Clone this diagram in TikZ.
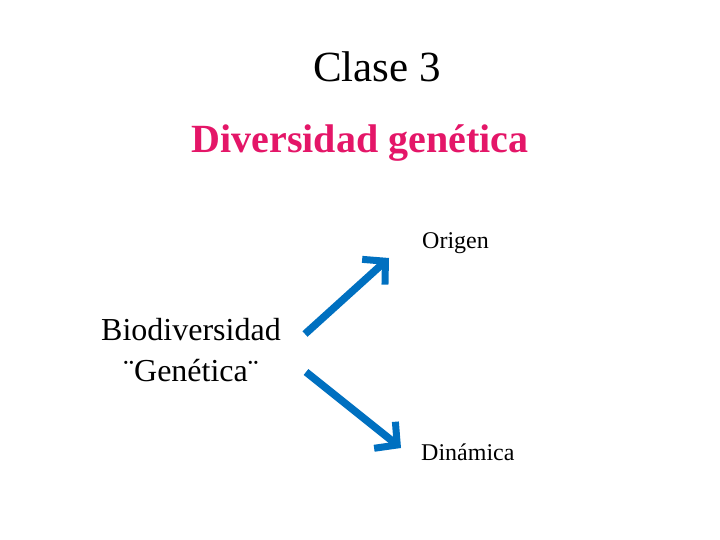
\documentclass[tikz,border=0pt]{standalone}
\usepackage{fontspec}
\setmainfont{Liberation Serif}
\usetikzlibrary{arrows.meta}
\definecolor{titlepink}{RGB}{228,22,104}
\definecolor{arrowblue}{RGB}{0,112,192}
\tikzset{
  lbl/.style={inner sep=0pt, anchor=center},
  bigarrow/.style={draw=arrowblue, line width=7.5pt, line cap=butt,
    -{Straight Barb[length=16pt, width=34pt, line width=7pt]}}
}
\begin{document}
\begin{tikzpicture}[x=1pt,y=-1pt]
\useasboundingbox (0,0) rectangle (720,540);
\node[lbl, font=\fontsize{43}{48}\selectfont] (clase) at (377,67) {Clase 3};
\node[lbl, font=\fontsize{40}{46}\selectfont\bfseries, text=titlepink] (titulo) at (360,143) {Diversidad genética};
\node[lbl, font=\fontsize{32}{41}\selectfont, align=center] (bio) at (191,350) {Biodiversidad\\¨Genética¨};
\node[lbl, font=\fontsize{24}{28}\selectfont, anchor=west] (origen) at (422,243) {Origen};
\node[lbl, font=\fontsize{24}{28}\selectfont, anchor=west] (dinamica) at (421,452) {Dinámica};
\coordinate (a1) at (305,334);
\coordinate (b1) at (389,258);
\coordinate (a2) at (306,372);
\coordinate (b2) at (401,448);
\draw[bigarrow] (a1) -- (b1);
\draw[bigarrow] (a2) -- (b2);
\end{tikzpicture}
\end{document}
